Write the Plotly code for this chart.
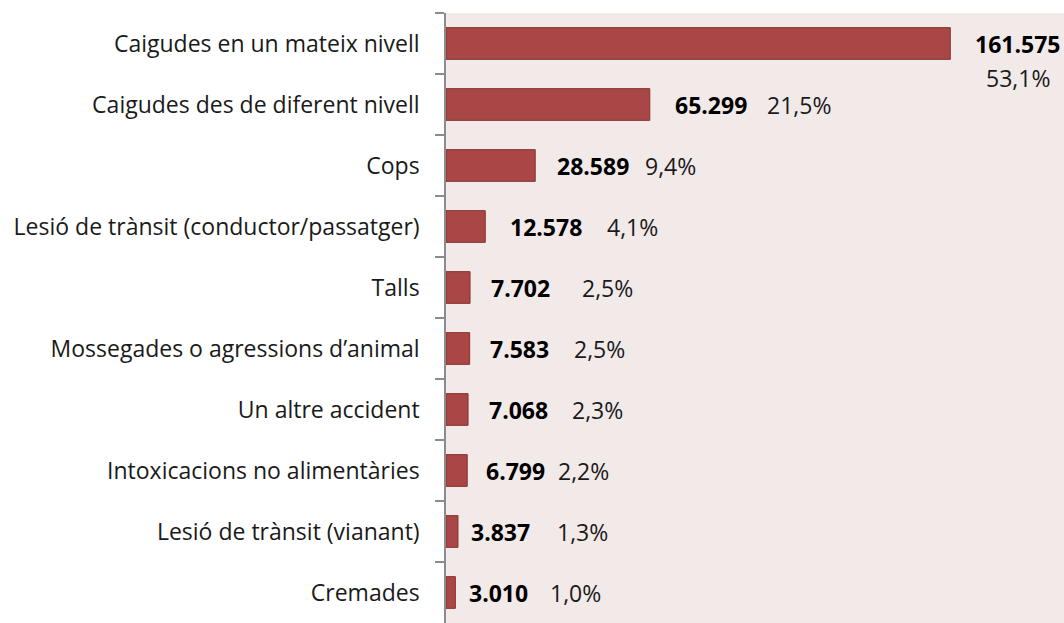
import plotly.graph_objects as go

categories = [
    "Caigudes en un mateix nivell",
    "Caigudes des de diferent nivell",
    "Cops",
    "Lesió de trànsit (conductor/passatger)",
    "Talls",
    "Mossegades o agressions d\u2019animal",
    "Un altre accident",
    "Intoxicacions no alimentàries",
    "Lesió de trànsit (vianant)",
    "Cremades",
]
values = [161575, 65299, 28589, 12578, 7702, 7583, 7068, 6799, 3837, 3010]
value_labels = ["161.575", "65.299", "28.589", "12.578", "7.702",
                "7.583", "7.068", "6.799", "3.837", "3.010"]
pct_labels = ["53,1%", "21,5%", "9,4%", "4,1%", "2,5%",
              "2,5%", "2,3%", "2,2%", "1,3%", "1,0%"]

# label spacing (pixels) to the right of each bar end
value_shift = [23, 23, 20, 23, 19, 18, 19, 17, 11, 12]
pct_gap = [0, 92, 88, 97, 91, 84, 83, 72, 86, 81]

FONT = "Open Sans"
SIZE = 23

fig = go.Figure(
    go.Bar(
        x=values,
        y=categories,
        orientation="h",
        marker=dict(color="#A94646", line=dict(color="#8A3232", width=1)),
        hoverinfo="skip",
    )
)

annotations = []
for i, (cat, v) in enumerate(zip(categories, values)):
    annotations.append(dict(
        x=v, y=cat, xref="x", yref="y", text="<b>%s</b>" % value_labels[i],
        showarrow=False, xanchor="left", yanchor="middle",
        xshift=value_shift[i], font=dict(family=FONT, size=SIZE, color="#000000"),
    ))
    if i == 0:
        # first percentage sits below its value
        annotations.append(dict(
            x=v, y=cat, xref="x", yref="y", text=pct_labels[i],
            showarrow=False, xanchor="center", yanchor="middle",
            xshift=value_shift[i] + 45, yshift=-34,
            font=dict(family=FONT, size=SIZE, color="#1a1a1a"),
        ))
    else:
        annotations.append(dict(
            x=v, y=cat, xref="x", yref="y", text=pct_labels[i],
            showarrow=False, xanchor="left", yanchor="middle",
            xshift=value_shift[i] + pct_gap[i],
            font=dict(family=FONT, size=SIZE, color="#1a1a1a"),
        ))

fig.update_layout(
    width=1064, height=623,
    margin=dict(l=446, r=0, t=13, b=0, pad=0),
    paper_bgcolor="#FFFFFF",
    plot_bgcolor="#F2E9E9",
    bargap=0.48,
    showlegend=False,
    annotations=annotations,
    font=dict(family=FONT, size=SIZE, color="#1a1a1a"),
)
fig.update_xaxes(range=[0, 198000], visible=False, showgrid=False, zeroline=False)
fig.update_yaxes(
    range=[len(categories) - 0.5, -0.5],
    showline=True, linecolor="#8C8C8C", linewidth=1.5,
    ticks="outside", ticklen=9, tickcolor="#8C8C8C", tickwidth=1.5,
    tickson="boundaries",
    ticklabelstandoff=20,
    showgrid=False,
    tickfont=dict(family=FONT, size=SIZE, color="#1a1a1a"),
)

fig.write_html("out.html")
